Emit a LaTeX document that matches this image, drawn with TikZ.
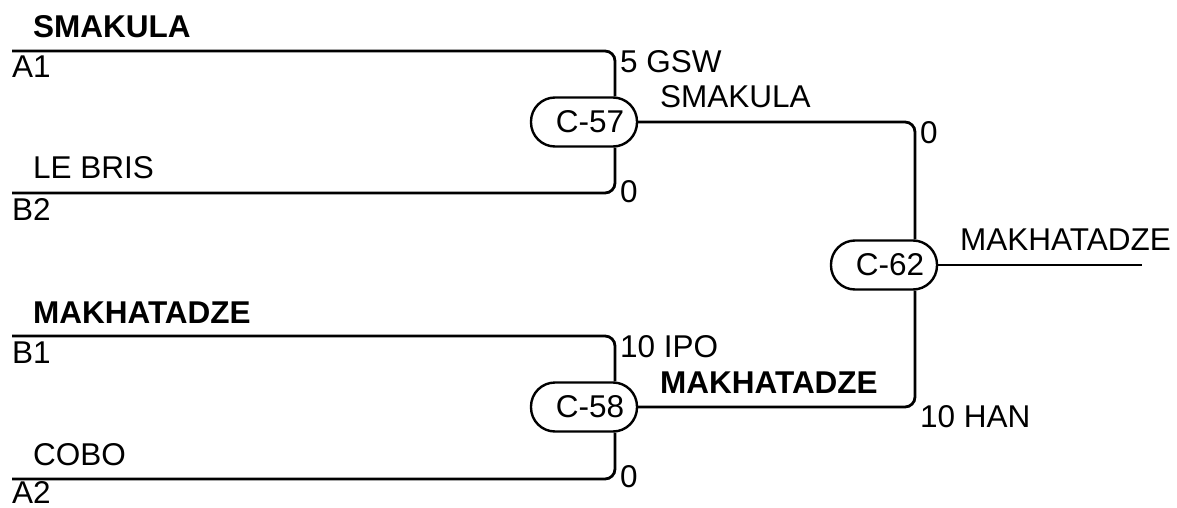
\documentclass[tikz,border=0pt]{standalone}
\usepackage{fontspec}
\setmainfont{Liberation Sans}
\usetikzlibrary{backgrounds}
\begin{document}
\begin{tikzpicture}[x=1pt,y=-1pt,
  font=\fontsize{31.5}{37}\selectfont,
  line/.style={line width=2.8pt, rounded corners=10pt},
  game/.style={draw, line width=2.4pt, fill=white, rounded corners=24pt,
    minimum width=106pt, minimum height=49pt, inner sep=0pt},
  lbl/.style={anchor=base west, inner sep=0pt},
  win/.style={lbl, font=\fontsize{31.5}{37}\selectfont\bfseries}]
\useasboundingbox (0,0) rectangle (1177,508);
% games
\node[game] (c57) at (584,122) {\hspace{12pt}C-57};
\node[game] (c58) at (584,407) {\hspace{12pt}C-58};
\node[game] (c62) at (884,265) {\hspace{12pt}C-62};
% junction columns and free ends
\coordinate (j57) at (615,0);
\coordinate (j62) at (915,0);
\coordinate (a1s) at (12,51);
\coordinate (b2s) at (12,193);
\coordinate (b1s) at (12,336);
\coordinate (a2s) at (12,479);
\coordinate (out) at (1142,0);
\begin{scope}[on background layer]
\draw[line] (a1s) -| (c57.north -| j57);
\draw[line] (b2s) -| (c57.south -| j57);
\draw[line] (b1s) -| (c58.north -| j57);
\draw[line] (a2s) -| (c58.south -| j57);
\draw[line] (c57.east) -| (c62.north -| j62);
\draw[line] (c58.east) -| (c62.south -| j62);
\draw[line] (c62.east) -- (c62.east -| out);
\end{scope}
% left labels
\node[win] (n1) at (33,38) {SMAKULA};
\node[lbl] (s1) at (12,78) {A1};
\node[lbl] (n2) at (33,178) {LE BRIS};
\node[lbl] (s2) at (12,220) {B2};
\node[win] (n3) at (33,323) {MAKHATADZE};
\node[lbl] (s3) at (12,363) {B1};
\node[lbl] (n4) at (33,465) {COBO};
\node[lbl] (s4) at (12,503) {A2};
% scores
\node[lbl] (sc1) at (620,73) {5 GSW};
\node[lbl] (sc2) at (620,202) {0};
\node[lbl] (sc3) at (620,357) {10 IPO};
\node[lbl] (sc4) at (620,487) {0};
\node[lbl] (sc5) at (920,143) {0};
\node[lbl] (sc6) at (920,427) {10 HAN};
% winners
\node[lbl] (w1) at (660,108) {SMAKULA};
\node[win] (w2) at (660,393) {MAKHATADZE};
\node[lbl] (w3) at (960,250) {MAKHATADZE};
\end{tikzpicture}
\end{document}
